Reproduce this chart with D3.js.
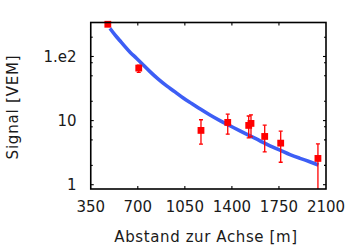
<!DOCTYPE html>
<html><head><meta charset="utf-8">
<script src="https://cdn.jsdelivr.net/npm/d3@7"></script>
<style>html,body{margin:0;padding:0;background:#fff;}svg{display:block;}text{font-family:"DejaVu Sans",sans-serif;fill:#1a1a1a;}</style>
</head><body>
<script>
// ---- data ----
const curveX = [493, 530, 568, 605, 642, 692, 741, 791, 852, 915, 977, 1038, 1101, 1163, 1237, 1311, 1386, 1460, 1535, 1609, 1683, 1758, 1832, 1907, 1981, 2043];
const curveY = [275, 216, 176, 142, 116, 93.7, 73.6, 57.9, 44.1, 34.6, 28.2, 22.3, 18.6, 15.2, 12.2, 9.96, 8.32, 6.88, 5.75, 4.86, 4.01, 3.48, 2.91, 2.58, 2.28, 2.03];
const ptX  = [477, 707, 1170, 1369, 1525, 1542, 1644, 1763, 2040];
const ptY  = [318, 65.9, 7.03, 9.37, 8.41, 9.04, 5.66, 4.45, 2.57];
const ptLo = [318, 56.5, 4.28, 6.13, 5.37, 5.56, 3.24, 2.24, 0.8];
const ptHi = [318, 73, 10.3, 12.6, 11.8, 12.3, 8.47, 6.83, 4.32];
const xTicks = [350, 700, 1050, 1400, 1750, 2100];
const yMajor = [1, 10, 100];
const yMajorLabels = ["1", "10", "1.e2"];
const yMinor = [2, 5, 8, 20, 50, 80, 200];
const xLabel = "Abstand zur Achse [m]";
const yLabel = "Signal [VEM]";

const W = 360, H = 250;
const L = 90.75, R = 326, T = 22.5, B = 189;
const svg = d3.select("body").append("svg").attr("width", W).attr("height", H);
const x = d3.scaleLinear().domain([350, 2100]).range([L, R]);
const y = d3.scaleLog().domain([0.857, 339]).range([B, T]);

svg.append("clipPath").attr("id", "clip").append("rect")
  .attr("x", L).attr("y", T).attr("width", R - L).attr("height", B - T);

// curve
const line = d3.line().x(d => x(d[0])).y(d => y(d[1])).curve(d3.curveBasis);
svg.append("path").datum(curveX.map((v, i) => [v, curveY[i]]))
  .attr("d", line).attr("fill", "none").attr("stroke", "#3d5ef5").attr("stroke-width", 3.6);

// error bars
const pts = ptX.map((v, i) => ({x: v, y: ptY[i], lo: ptLo[i], hi: ptHi[i]}));
const eg = svg.append("g").attr("clip-path", "url(#clip)").attr("stroke", "#f00").attr("stroke-width", 1.3);
pts.forEach(p => {
  if (p.lo === p.hi) return;
  eg.append("line").attr("x1", x(p.x)).attr("x2", x(p.x)).attr("y1", y(p.lo)).attr("y2", y(p.hi));
  [p.lo, p.hi].forEach(v => eg.append("line").attr("x1", x(p.x) - 2).attr("x2", x(p.x) + 2).attr("y1", y(v)).attr("y2", y(v)));
});
// squares
svg.append("g").selectAll("rect").data(pts).join("rect")
  .attr("x", d => x(d.x) - 3.4).attr("y", d => y(d.y) - 3.4)
  .attr("width", 6.8).attr("height", 6.8).attr("fill", "#f00");

// frame
svg.append("rect").attr("x", L).attr("y", T).attr("width", R - L).attr("height", B - T)
  .attr("fill", "none").attr("stroke", "#000").attr("stroke-width", 1.6);

// ticks
const tg = svg.append("g").attr("stroke", "#000").attr("stroke-width", 1.1);
xTicks.slice(1, -1).forEach(v => {
  tg.append("line").attr("x1", x(v)).attr("x2", x(v)).attr("y1", B).attr("y2", B - 3);
  tg.append("line").attr("x1", x(v)).attr("x2", x(v)).attr("y1", T).attr("y2", T + 3);
});
yMajor.forEach(v => {
  tg.append("line").attr("x1", L).attr("x2", L + 3).attr("y1", y(v)).attr("y2", y(v));
  tg.append("line").attr("x1", R).attr("x2", R - 3).attr("y1", y(v)).attr("y2", y(v));
});
yMinor.forEach(v => {
  tg.append("line").attr("x1", L).attr("x2", L + 2).attr("y1", y(v)).attr("y2", y(v));
  tg.append("line").attr("x1", R).attr("x2", R - 2).attr("y1", y(v)).attr("y2", y(v));
});

// tick labels
svg.append("g").selectAll("text").data(xTicks).join("text")
  .attr("x", d => x(d)).attr("y", 212).attr("text-anchor", "middle").attr("font-size", 15).text(d => d);
svg.append("g").selectAll("text").data(yMajor).join("text")
  .attr("x", 76.5).attr("y", d => y(d) + 5.5).attr("text-anchor", "end").attr("font-size", 15)
  .text((d, i) => yMajorLabels[i]);

// axis labels
svg.append("text").attr("x", 206).attr("y", 241.5).attr("text-anchor", "middle")
  .attr("font-size", 15).attr("letter-spacing", 0.6).text(xLabel);
svg.append("text").attr("transform", "translate(18,107) rotate(-90)").attr("text-anchor", "middle")
  .attr("font-size", 15).attr("letter-spacing", 0.8).text(yLabel);
</script>
</body></html>
